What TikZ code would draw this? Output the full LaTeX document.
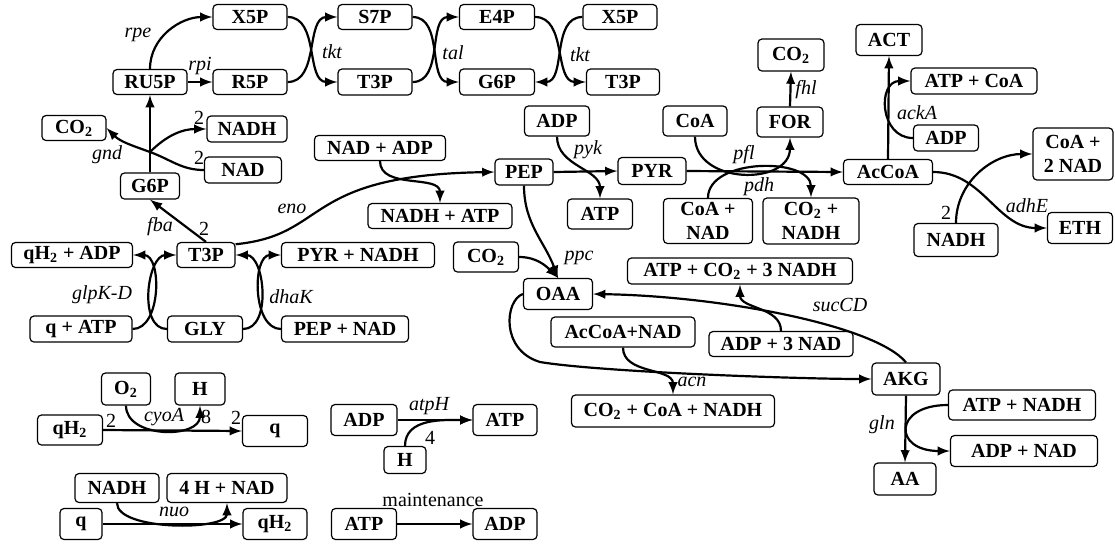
\documentclass[tikz,border=0pt]{standalone}
\usepackage{fontspec}
\setmainfont{Liberation Serif}
\usepackage{tikz}
\usetikzlibrary{calc}
\usetikzlibrary{arrows}
\usetikzlibrary{arrows.meta}
\tikzset{>=latex}
\tikzstyle{met} = [draw=black, rounded corners=2pt, line width=0.6pt, font=\bfseries, inner sep=0pt, align=center]
\tikzstyle{enz} = [draw=none, font=\itshape, inner sep=0pt]
\tikzstyle{num} = [draw=none, inner sep=0pt]
\tikzstyle{rx} = [->, line width=1.1pt]

\begin{document}
\begin{tikzpicture}[x=0.5pt, y=0.5pt]
\useasboundingbox (0,0) rectangle (1115,-543);
% pentose phosphate
\node [met, minimum width=37pt, minimum height=12.5pt] (X5Pa) at (250,-17) {X5P};
\node [met, minimum width=37pt, minimum height=12.5pt] (S7P) at (375,-17) {S7P};
\node [met, minimum width=37.5pt, minimum height=12.5pt] (E4P) at (497,-17) {E4P};
\node [met, minimum width=37pt, minimum height=12.5pt] (X5Pb) at (620,-17) {X5P};
\node [met, minimum width=37pt, minimum height=12.5pt] (RU5P) at (150,-82) {RU5P};
\node [met, minimum width=37pt, minimum height=12.5pt] (R5P) at (250,-82) {R5P};
\node [met, minimum width=37pt, minimum height=13pt] (T3Pa) at (375,-82) {T3P};
\node [met, minimum width=37.5pt, minimum height=13pt] (G6Pb) at (497,-82) {G6P};
\node [met, minimum width=36.5pt, minimum height=13pt] (T3Pb) at (623,-82) {T3P};
\node [met, minimum width=32pt, minimum height=12.5pt] (CO2a) at (74,-128) {CO\textsubscript{2}};
\node [met, minimum width=40pt, minimum height=13pt] (NADHa) at (247,-129) {NADH};
\node [met, minimum width=38.5pt, minimum height=13pt] (NADa) at (243,-170) {NAD};
\node [met, minimum width=29.5pt, minimum height=13pt] (G6Pa) at (150,-186) {G6P};
% glycolysis
\node [met, minimum width=65.5pt, minimum height=12.5pt] (NADADP) at (380,-148) {NAD + ADP};
\node [met, minimum width=72pt, minimum height=12.5pt] (NADHATP) at (440,-216) {NADH + ATP};
\node [met, minimum width=29pt, minimum height=13pt] (PEP) at (524,-172) {PEP};
\node [met, minimum width=34pt, minimum height=13.5pt] (PYR) at (652,-171) {PYR};
\node [met, minimum width=32.5pt, minimum height=15pt] (ADPa) at (557,-121) {ADP};
\node [met, minimum width=32.5pt, minimum height=15pt] (ATPa) at (600,-214) {ATP};
\node [met, minimum width=32pt, minimum height=15pt] (CoAa) at (695,-121) {CoA};
\node [met, minimum width=33pt, minimum height=15pt] (FOR) at (790,-122) {FOR};
\node [met, minimum width=33pt, minimum height=16pt] (CO2b) at (791,-55) {CO\textsubscript{2}};
\node [met, minimum width=44.5pt, minimum height=22.5pt] (CoANAD) at (708,-221) {CoA +\\NAD};
\node [met, minimum width=48pt, minimum height=23pt] (CO2NADH) at (811,-221) {CO\textsubscript{2} +\\NADH};
\node [met, minimum width=44.5pt, minimum height=12.5pt] (AcCoA) at (888,-172) {AcCoA};
\node [met, minimum width=33pt, minimum height=15.5pt] (ACT) at (889,-40) {ACT};
\node [met, minimum width=63pt, minimum height=13pt] (ATPCoA) at (974,-81) {ATP + CoA};
\node [met, minimum width=32.5pt, minimum height=13pt] (ADPb) at (946,-138) {ADP};
\node [met, minimum width=40pt, minimum height=26pt] (CoA2NAD) at (1073,-154) {CoA +\\2 NAD};
\node [met, minimum width=42pt, minimum height=16.5pt] (NADHb) at (956,-240) {NADH};
\node [met, minimum width=32.5pt, minimum height=15.5pt] (ETH) at (1080,-228) {ETH};
% glycerol
\node [met, minimum width=60.5pt, minimum height=12.5pt] (qH2ADP) at (72,-255) {qH\textsubscript{2} + ADP};
\node [met, minimum width=29pt, minimum height=12.5pt] (T3Pc) at (206,-255) {T3P};
\node [met, minimum width=76.5pt, minimum height=12.5pt] (PYRNADH) at (358,-255) {PYR + NADH};
\node [met, minimum width=51pt, minimum height=13pt] (qATP) at (81,-329) {q + ATP};
\node [met, minimum width=37.5pt, minimum height=13pt] (GLY) at (205,-329) {GLY};
\node [met, minimum width=63.5pt, minimum height=13pt] (PEPNAD) at (345,-329) {PEP + NAD};
% TCA
\node [met, minimum width=32.5pt, minimum height=15pt] (CO2c) at (486,-257) {CO\textsubscript{2}};
\node [met, minimum width=34.5pt, minimum height=15.5pt] (OAA) at (558,-294) {OAA};
\node [met, minimum width=112.5pt, minimum height=13pt] (ATPCO2) at (740,-271) {ATP + CO\textsubscript{2} + 3 NADH};
\node [met, minimum width=72pt, minimum height=15pt] (AcCoANAD) at (623,-332) {AcCoA+NAD};
\node [met, minimum width=72pt, minimum height=12.5pt] (ADP3NAD) at (781,-344) {ADP + 3 NAD};
\node [met, minimum width=34pt, minimum height=16pt] (AKG) at (906,-379) {AKG};
\node [met, minimum width=101.5pt, minimum height=16pt] (CO2CoANADH) at (673,-411) {CO\textsubscript{2} + CoA + NADH};
\node [met, minimum width=73.5pt, minimum height=15pt] (ATPNADH) at (1022,-405) {ATP + NADH};
\node [met, minimum width=73.5pt, minimum height=15.5pt] (ADPNAD) at (1024,-451) {ADP + NAD};
\node [met, minimum width=31pt, minimum height=16pt] (AA) at (905,-479) {AA};
% respiration, ATP synthase, maintenance
\node [met, minimum width=24.5pt, minimum height=16pt] (O2) at (126,-389) {O\textsubscript{2}};
\node [met, minimum width=25pt, minimum height=16pt] (Hc) at (200,-389) {H};
\node [met, minimum width=32.5pt, minimum height=15pt] (qH2a) at (70,-430) {qH\textsubscript{2}};
\node [met, minimum width=32.5pt, minimum height=15.5pt] (qa) at (275,-431) {q};
\node [met, minimum width=33pt, minimum height=15.5pt] (ADPc) at (364,-420) {ADP};
\node [met, minimum width=32pt, minimum height=15.5pt] (ATPb) at (505,-420) {ATP};
\node [met, minimum width=21pt, minimum height=13.5pt] (Hd) at (405,-460) {H};
\node [met, minimum width=42pt, minimum height=14.5pt] (NADHc) at (117,-488) {NADH};
\node [met, minimum width=60pt, minimum height=14.5pt] (H4NAD) at (227,-488) {4 H + NAD};
\node [met, minimum width=21pt, minimum height=15.5pt] (qb) at (81,-524) {q};
\node [met, minimum width=32pt, minimum height=15.5pt] (qH2b) at (275,-524) {qH\textsubscript{2}};
\node [met, minimum width=32.5pt, minimum height=15.5pt] (ATPc) at (364,-524) {ATP};
\node [met, minimum width=32pt, minimum height=15.5pt] (ADPd) at (505,-524) {ADP};

% enzyme labels
\node [enz] (lrpe) at (138,-35) {rpe};
\node [enz] (lrpi) at (200,-66) {rpi};
\node [enz] (ltkta) at (332,-52) {tkt};
\node [enz] (ltal) at (453,-53) {tal};
\node [enz] (ltktb) at (580,-55) {tkt};
\node [enz] (lgnd) at (107,-155) {gnd};
\node [num] (n1) at (199,-118) {2};
\node [num] (n2) at (199,-158) {2};
\node [enz] (lfba) at (160,-227) {fba};
\node [num] (n3) at (204,-229) {2};
\node [enz] (leno) at (292,-209) {eno};
\node [enz] (lglp) at (102,-295) {glpK-D};
\node [enz] (ldha) at (291,-297) {dhaK};
\node [enz] (lpyk) at (588,-150) {pyk};
\node [enz] (lpfl) at (744,-155) {pfl};
\node [enz] (lpdh) at (759,-187) {pdh};
\node [enz] (lfhl) at (806,-90) {fhl};
\node [enz] (lack) at (917,-113) {ackA};
\node [enz] (ladh) at (1027,-206) {adhE};
\node [num] (n4) at (946,-213) {2};
\node [enz] (lppc) at (579,-258) {ppc};
\node [enz] (lsuc) at (840,-305) {sucCD};
\node [enz] (lacn) at (692,-382) {acn};
\node [enz] (lgln) at (882,-425) {gln};
\node [enz] (lcyo) at (164,-417) {cyoA};
\node [num] (n5) at (111,-421) {2};
\node [num] (n6) at (206,-417) {8};
\node [num] (n7) at (236,-418) {2};
\node [enz] (latp) at (429,-406) {atpH};
\node [num] (n8) at (430,-438) {4};
\node [enz] (lnuo) at (174,-512) {nuo};
\node [num] (lmain) at (433,-500) {maintenance};

\coordinate (gndj) at (150,-152);
\coordinate (tca) at (540,-362);

% pentose phosphate arrows
\draw [rx] (RU5P.north) to[out=90, in=180] (X5Pa.west);
\draw [rx] (RU5P.east) -- (R5P.west);
\draw [rx] (X5Pa.east) to[out=0, in=180] (T3Pa.west);
\draw [rx] (R5P.east) to[out=0, in=180] (S7P.west);
\draw [rx] (S7P.east) to[out=0, in=180] (G6Pb.west);
\draw [rx] (T3Pa.east) to[out=0, in=180] (E4P.west);
\draw [rx] (E4P.east) to[out=0, in=180] (T3Pb.west);
\draw [rx] (X5Pb.west) to[out=180, in=0] (G6Pb.east);
\draw [rx] (G6Pa.north) -- (RU5P.south);
\draw [rx] (NADa.west) to[out=180, in=-20] (gndj) to[out=160, in=-45] (CO2a.east);
\draw [rx] (gndj) to[out=45, in=180] (NADHa.west);
% glycolysis
\draw [rx] (T3Pc.north) -- (G6Pa.south);
\draw [rx] (T3Pc.20) .. controls (330,-235) and (300,-175) .. (PEP.west);
\draw [rx] (NADADP.south) to[out=-90, in=90] (NADHATP.north);
\draw [rx] (PEP.east) -- (PYR.west);
\draw [rx] (ADPa.south) to[out=-90, in=90] (ATPa.north);
\draw [rx] (PYR.east) -- (AcCoA.west);
\draw [rx] (CoAa.south) to[out=-90, in=-90, looseness=1.3] (FOR.south);
\draw [rx] (CoANAD.north) to[out=90, in=90] (CO2NADH.north);
\draw [rx] (FOR.north) -- (CO2b.south);
\draw [rx] (AcCoA.north) -- (ACT.south);
\draw [rx] (ADPb.west) to[out=180, in=180, looseness=1.5] (ATPCoA.west);
\draw [rx] (AcCoA.east) to[out=0, in=180] (ETH.west);
\draw [rx] (NADHb.north) to[out=90, in=180] (CoA2NAD.west);
% glycerol
\draw [rx] (GLY.west) to[out=180, in=180] (T3Pc.west);
\draw [rx] (qATP.east) to[out=0, in=0] (qH2ADP.east);
\draw [rx] (GLY.east) to[out=0, in=0] (T3Pc.east);
\draw [rx] (PEPNAD.west) to[out=180, in=180] (PYRNADH.west);
% TCA
\draw [rx] (PEP.south) to[out=-90, in=110] (OAA.north);
\draw [rx] (CO2c.east) to[out=0, in=135] (OAA.north);
\draw [rx] (OAA.west) .. controls (505,-300) and (500,-350) .. (tca) .. controls (600,-372) and (800,-379) .. (AKG.west);
\draw [rx] (AcCoANAD.south) to[out=-90, in=90] (CO2CoANADH.north);
\draw [rx] (AKG.north) .. controls (875,-325) and (720,-296) .. (OAA.east);
\draw [rx] (ADP3NAD.north) to[out=90, in=-90] (ATPCO2.south);
\draw [rx] (AKG.south) -- (AA.north);
\draw [rx] (ATPNADH.west) .. controls (893,-405) and (893,-451) .. (ADPNAD.west);
% energy
\draw [rx] (qH2a.east) -- (qa.west);
\draw [rx] (O2.south) to[out=-90, in=-90, looseness=1.15] (Hc.south);
\draw [rx] (ADPc.east) -- (ATPb.west);
\draw [rx] (Hd.north) to[out=90, in=180] (ATPb.west);
\draw [rx] (qb.east) -- (qH2b.west);
\draw [rx] (NADHc.south) to[out=-90, in=-90, looseness=0.65] (H4NAD.south);
\draw [rx] (ATPc.east) -- (ADPd.west);
\end{tikzpicture}
\end{document}
